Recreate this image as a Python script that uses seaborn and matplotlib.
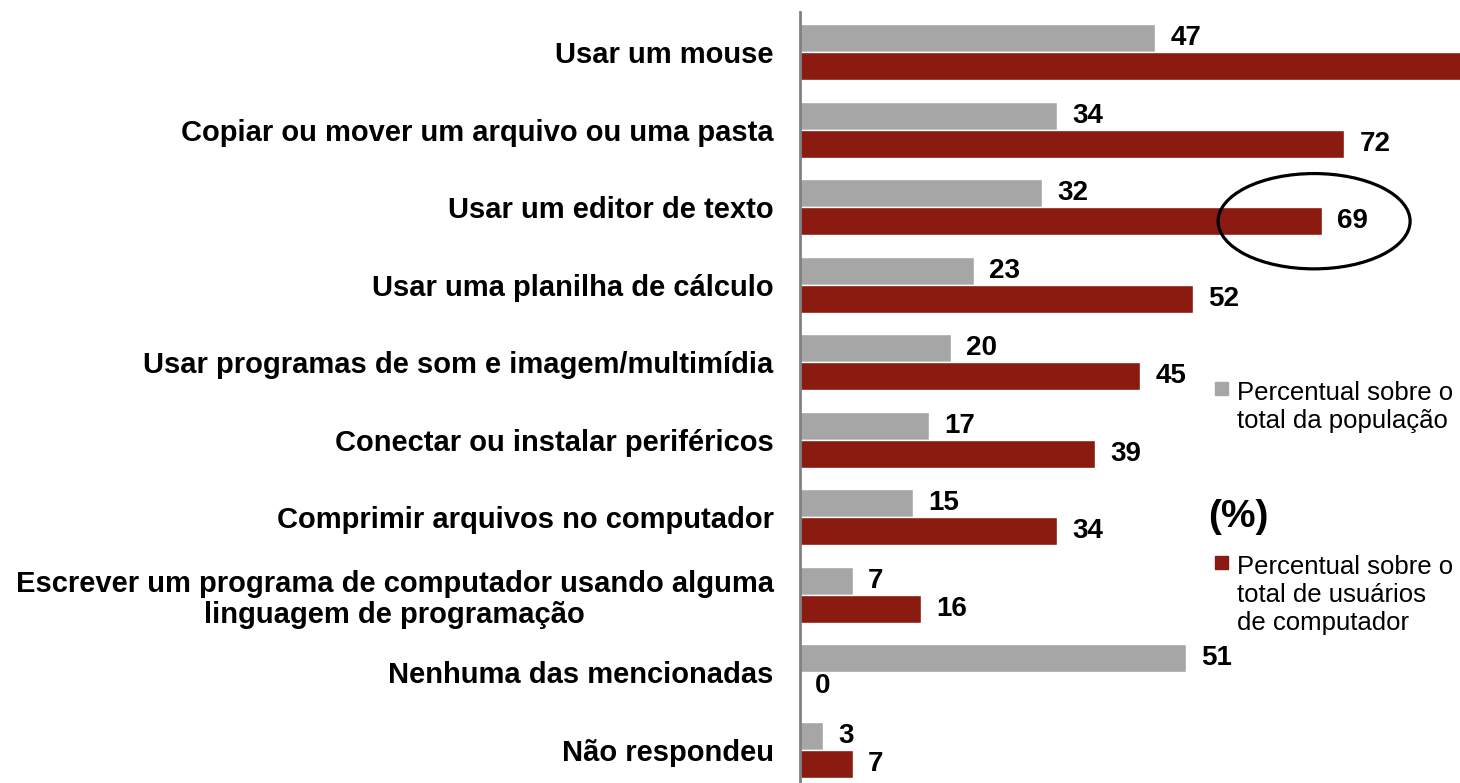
import pandas as pd
import matplotlib.pyplot as plt
import seaborn as sns
from matplotlib.patches import Ellipse, Rectangle

# -------------------------------
# Data
# -------------------------------
categories = [
    "Usar um mouse",
    "Copiar ou mover um arquivo ou uma pasta",
    "Usar um editor de texto",
    "Usar uma planilha de cálculo",
    "Usar programas de som e imagem/multimídia",
    "Conectar ou instalar periféricos",
    "Comprimir arquivos no computador",
    "Escrever um programa de computador usando alguma\nlinguagem de programação",
    "Nenhuma das mencionadas",
    "Não respondeu",
]
pop_values = [47, 34, 32, 23, 20, 17, 15, 7, 51, 3]
user_values = [89, 72, 69, 52, 45, 39, 34, 16, 0, 7]

series_pop = "Percentual sobre o\ntotal da população"
series_user = "Percentual sobre o\ntotal de usuários\nde computador"
highlight_cat = "Usar um editor de texto"

GRAY = "#A6A6A6"
RED = "#8B1A10"

df = pd.DataFrame({
    "cat": categories * 2,
    "value": pop_values + user_values,
    "serie": [series_pop] * len(categories) + [series_user] * len(categories),
})

# -------------------------------
# Plot
# -------------------------------
sns.set_style("white")
plt.rcParams["font.family"] = ["Liberation Sans", "DejaVu Sans"]
plt.rcParams["text.color"] = "black"
plt.rcParams["ytick.color"] = "black"

W, H = 1460, 783
fig = plt.figure(figsize=(W / 100, H / 100), dpi=100)
ax = fig.add_axes([800 / W, 0.0, 660 / W, 771 / H])

sns.barplot(
    data=df, y="cat", x="value", hue="serie", orient="h",
    palette=[GRAY, RED], width=0.72, saturation=1, ax=ax, legend=False,
)

ax.set_xlim(0, 87.3)
ax.set_ylim(9.43, -0.52)
ax.set_xlabel("")
ax.set_ylabel("")
ax.set_xticks([])
ax.tick_params(axis="y", length=0, pad=19, labelcolor="black")
ax.set_yticks(range(len(categories)))
ax.set_yticklabels(categories, fontsize=21, fontweight="bold",
                   multialignment="center", linespacing=1.15)

for side in ["top", "right", "bottom"]:
    ax.spines[side].set_visible(False)
ax.spines["left"].set_color("#808080")
ax.spines["left"].set_linewidth(2)

# value labels
for container in ax.containers:
    ax.bar_label(container, fmt="%d", padding=11, fontsize=20, fontweight="bold",
                 color="black", clip_on=True)

# highlight ellipse around the editor de texto value
i = categories.index(highlight_cat)
ax.add_patch(Ellipse((user_values[i] - 1, i + 0.18), 25.4, 1.23,
                     fill=False, edgecolor="black", linewidth=2.3, clip_on=False))

# custom legend (va=baseline anchors the last line)
fig.patches.append(Rectangle((1215 / W, 1 - 395 / H), 13 / W, 13 / H,
                             transform=fig.transFigure, color=GRAY))
fig.text(1237 / W, 1 - 428 / H, series_pop, fontsize=18.5, va="baseline",
         linespacing=1.2)

fig.text(1208 / W, 1 - 527 / H, "(%)", fontsize=28, fontweight="bold", va="baseline")

fig.patches.append(Rectangle((1215 / W, 1 - 569 / H), 13 / W, 13 / H,
                             transform=fig.transFigure, color=RED))
fig.text(1237 / W, 1 - 630 / H, series_user, fontsize=18.5, va="baseline",
         linespacing=1.2)

plt.savefig("out.png", dpi=100)
plt.close()
